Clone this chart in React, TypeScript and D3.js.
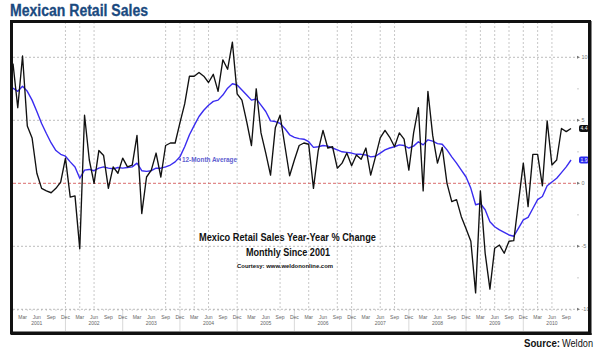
import React from 'react';
import * as d3 from 'd3';

// Mexico retail sales, year-over-year % change, monthly from Jan 2001
const retailSales: number[] = [
  9.5, 6.0, 10.1, 4.55, 3.6, 0.8, -0.4, -0.6, -0.75, -0.4, 0.1, 2.0,
  -1.1, -1.0, -5.2, 5.4, 1.85, 0, 2.6, 2.2, -0.4, 1.3, 0.8, 2.0,
  1.3, 1.45, 3.8, -2.4, 0.5, 1.05, 2.4, 0.5, 3.0, 3.2, 3.2, 4.8,
  6.3, 8.5, 8.5, 8.8, 8.5, 8.0, 8.65, 7.3, 9.8, 9.05, 11.2, 7.1,
  6.6, 4.9, 3.0, 7.5, 4.0, 2.4, 0.65, 4.4, 5.4, 3.0, 0.6, 1.85,
  3.0, 3.2, 3.1, -0.4, 2.6, 4.2, 2.8, 2.9, 1.2, 1.6, 2.4, 1.4,
  2.25, 1.9, 2.8, 0.65, 2.1, 3.6, 4.2, 3.65, 2.9, 4.0, 3.5, 1.05,
  4.0, 6.0, -0.6, 7.3, 3.8, 1.6, 2.85, 0, -1.45, -1.3, -2.65, -3.6,
  -4.6, -8.7, -0.6, -5.55, -8.4, -5.15, -4.9, -5.55, -4.6, -4.55, -1.45, 1.6,
  -1.85, 2.3, 2.3, -0.2, 4.95, 1.45, 1.85, 4.35, 4.1, 4.35,
];

// 12-month average
const avg12: number[] = [
  7.55, 7.3, 7.7, 7.3, 6.6, 5.7, 4.75, 3.95, 3.2, 2.6, 2.3, 2.15,
  1.7, 1.3, 0.4, 1.05, 1.1, 1.0, 1.2, 1.3, 1.2, 1.15, 1.25, 1.2,
  1.25, 1.3, 1.6, 1.0, 0.95, 1.0, 1.2, 1.2, 1.3, 1.45, 1.7, 2.1,
  2.9, 3.85, 4.6, 5.3, 5.8, 6.2, 6.5, 6.6, 7.0, 7.55, 7.9, 7.8,
  7.4, 7.0, 6.6, 6.7, 6.2, 5.7, 4.95, 4.9, 4.75, 4.35, 3.85, 3.65,
  3.55, 3.5, 3.3, 2.85, 2.9, 3.0, 2.95, 2.8, 2.65, 2.5, 2.45, 2.4,
  2.3, 2.3, 2.25, 2.1, 2.15, 2.4, 2.65, 2.8, 2.9, 3.05, 3.0, 2.8,
  2.95, 3.3, 3.05, 3.45, 3.35, 3.15, 3.1, 2.65, 2.1, 1.6, 1.05, 0.5,
  -0.4, -1.7, -1.6, -2.1, -3.05, -3.45, -3.7, -3.9, -4.1, -4.2, -3.55, -2.9,
  -2.7, -2.0, -1.3, -1.05, -0.2, 0.1, 0.4, 0.85, 1.3, 1.85,
];

const startYear = 2001;
const quarterNames = ['Mar', 'Jun', 'Sep', 'Dec'];
const yTicks = [10, 5, 0, -5, -10];
const yMinorTicks = [7.5, 2.5, -2.5, -7.5];
// month indices (from Jan 2001) where vertical gridlines are drawn
const gridMonths = [11, 14, 17, 32, 35, 38, 41, 47, 56, 62, 68, 71, 77, 80, 95, 98, 101, 104, 107, 110, 113];
const lastSalesLabel = '4.4';
const lastAvgLabel = '1.9';

export default function App() {
  const W = 600;
  const H = 351;
  const n = retailSales.length;
  const x = d3.scaleLinear().domain([0, n - 1]).range([13, 571]);
  const y = d3.scaleLinear().domain([-10, 10]).range([309.3, 57.3]);
  const plotRight = 578;
  const plotTop = 22;
  const line = d3.line<number>().x((_, i) => x(i)).y((d) => y(d));

  const quarterIdx = d3.range(2, n, 3);
  const decIdx = d3.range(11, n, 12);
  const monthIdx = d3.range(0, n);

  return (
    <svg width={W} height={H} style={{ position: 'absolute', left: 0, top: 0, background: '#fff' }}
      fontFamily="'Liberation Sans Narrow', 'Liberation Sans', Arial, sans-serif">
      <rect x={0} y={0} width={W} height={H} fill="#fff" />
      {/* Title */}
      <text x={10} y={15.5} fontSize={16} fontWeight="bold" fill="#1a4a80" stroke="#1a4a80" strokeWidth={0.3}
        textLength={138} lengthAdjust="spacingAndGlyphs">
        Mexican Retail Sales
      </text>

      {/* vertical gridlines */}
      {gridMonths.map((m) => (
        <line key={'vg' + m} x1={x(m)} x2={x(m)} y1={plotTop} y2={y(-10)} stroke="#b0b0b0" strokeWidth={0.7} strokeDasharray="2,2" />
      ))}
      {/* year separators below axis */}
      {decIdx.map((m) => (
        <line key={'ys' + m} x1={x(m)} x2={x(m)} y1={y(-10)} y2={331} stroke="#c8c8c8" strokeWidth={0.7} />
      ))}

      {/* horizontal gridlines */}
      {yTicks.filter((t) => t !== 0).map((t) => (
        <line key={'hg' + t} x1={13} x2={plotRight} y1={y(t)} y2={y(t)} stroke="#a0a0a0" strokeWidth={0.7} strokeDasharray="2,2" />
      ))}
      <line x1={13} x2={plotRight} y1={y(0)} y2={y(0)} stroke="#d04848" strokeWidth={0.8} strokeDasharray="3,2" />

      {/* axis arrows and labels on right */}
      {yTicks.map((t) => (
        <g key={'yt' + t}>
          <path d={`M${plotRight - 1},${y(t) - 1.5} L${plotRight + 2},${y(t)} L${plotRight - 1},${y(t) + 1.5} Z`} fill="#777" />
          <text x={plotRight + 3.5} y={y(t) + 2} fontSize={5.5} fill="#777">{t}</text>
        </g>
      ))}
      {yMinorTicks.map((t) => (
        <circle key={'ym' + t} cx={plotRight} cy={y(t)} r={0.6} fill="#999" />
      ))}

      {/* month minor ticks */}
      {monthIdx.map((m) => (
        <line key={'mt' + m} x1={x(m)} x2={x(m)} y1={y(-10)} y2={y(-10) + 1.5} stroke="#999" strokeWidth={0.5} />
      ))}
      {/* quarter labels */}
      {quarterIdx.map((m) => {
        const name = quarterNames[((m - 2) / 3) % 4];
        const yr = startYear + Math.floor(m / 12);
        return (
          <g key={'ql' + m}>
            <text x={x(m)} y={319} fontSize={5} fill="#666" textAnchor="middle">{name}</text>
            {name === 'Jun' && (
              <text x={x(m)} y={325} fontSize={5} fill="#666" textAnchor="middle">{yr}</text>
            )}
          </g>
        );
      })}

      {/* series */}
      <path d={line(avg12) || ''} fill="none" stroke="#3a2cf0" strokeWidth={1.4} strokeLinejoin="round" />
      <path d={line(retailSales) || ''} fill="none" stroke="#111" strokeWidth={1.35} strokeLinejoin="round" />

      {/* last value tags */}
      <rect x={579} y={y(retailSales[n - 1]) - 3.5} width={10} height={7} rx={2} fill="#111" />
      <text x={584} y={y(retailSales[n - 1]) + 1.8} fontSize={5} fill="#fff" textAnchor="middle">{lastSalesLabel}</text>
      <rect x={579} y={y(avg12[n - 1]) - 3.5} width={10} height={7} rx={2} fill="#2a2af0" />
      <text x={584} y={y(avg12[n - 1]) + 1.8} fontSize={5} fill="#fff" textAnchor="middle">{lastAvgLabel}</text>

      {/* 12-month average label */}
      <path d="M178,159.5 L181,158 L181,161 Z" fill="#6060d0" />
      <text x={182} y={161.5} fontSize={7} fontWeight="bold" fill="#6060d0" textLength={55} lengthAdjust="spacingAndGlyphs">
        12-Month Average
      </text>

      {/* annotation */}
      <text x={287.5} y={240.5} fontSize={10.5} fontWeight="bold" fill="#111" textAnchor="middle" textLength={177} lengthAdjust="spacingAndGlyphs">
        Mexico Retail Sales Year-Year % Change
      </text>
      <text x={288} y={256} fontSize={10.5} fontWeight="bold" fill="#111" textAnchor="middle" textLength={84} lengthAdjust="spacingAndGlyphs">
        Monthly Since 2001
      </text>
      <text x={285} y={268} fontSize={6} fontWeight="bold" fill="#111" textAnchor="middle" textLength={96} lengthAdjust="spacingAndGlyphs">
        Courtesy: www.weldononline.com
      </text>

      {/* frame */}
      <rect x={11.5} y={21.5} width={578} height={311.5} fill="none" stroke="#111" strokeWidth={3} />
      <line x1={590.5} x2={590.5} y1={21} y2={335} stroke="#111" strokeWidth={2} />
      <line x1={11} x2={591.5} y1={334} y2={334} stroke="#111" strokeWidth={2} />

      {/* source */}
      <text x={524} y={347} fontSize={10} fontWeight="bold" fill="#111" textLength={36} lengthAdjust="spacingAndGlyphs">
        Source:
      </text>
      <text x={562} y={347} fontSize={10} fill="#111" textLength={31} lengthAdjust="spacingAndGlyphs">
        Weldon
      </text>
    </svg>
  );
}
